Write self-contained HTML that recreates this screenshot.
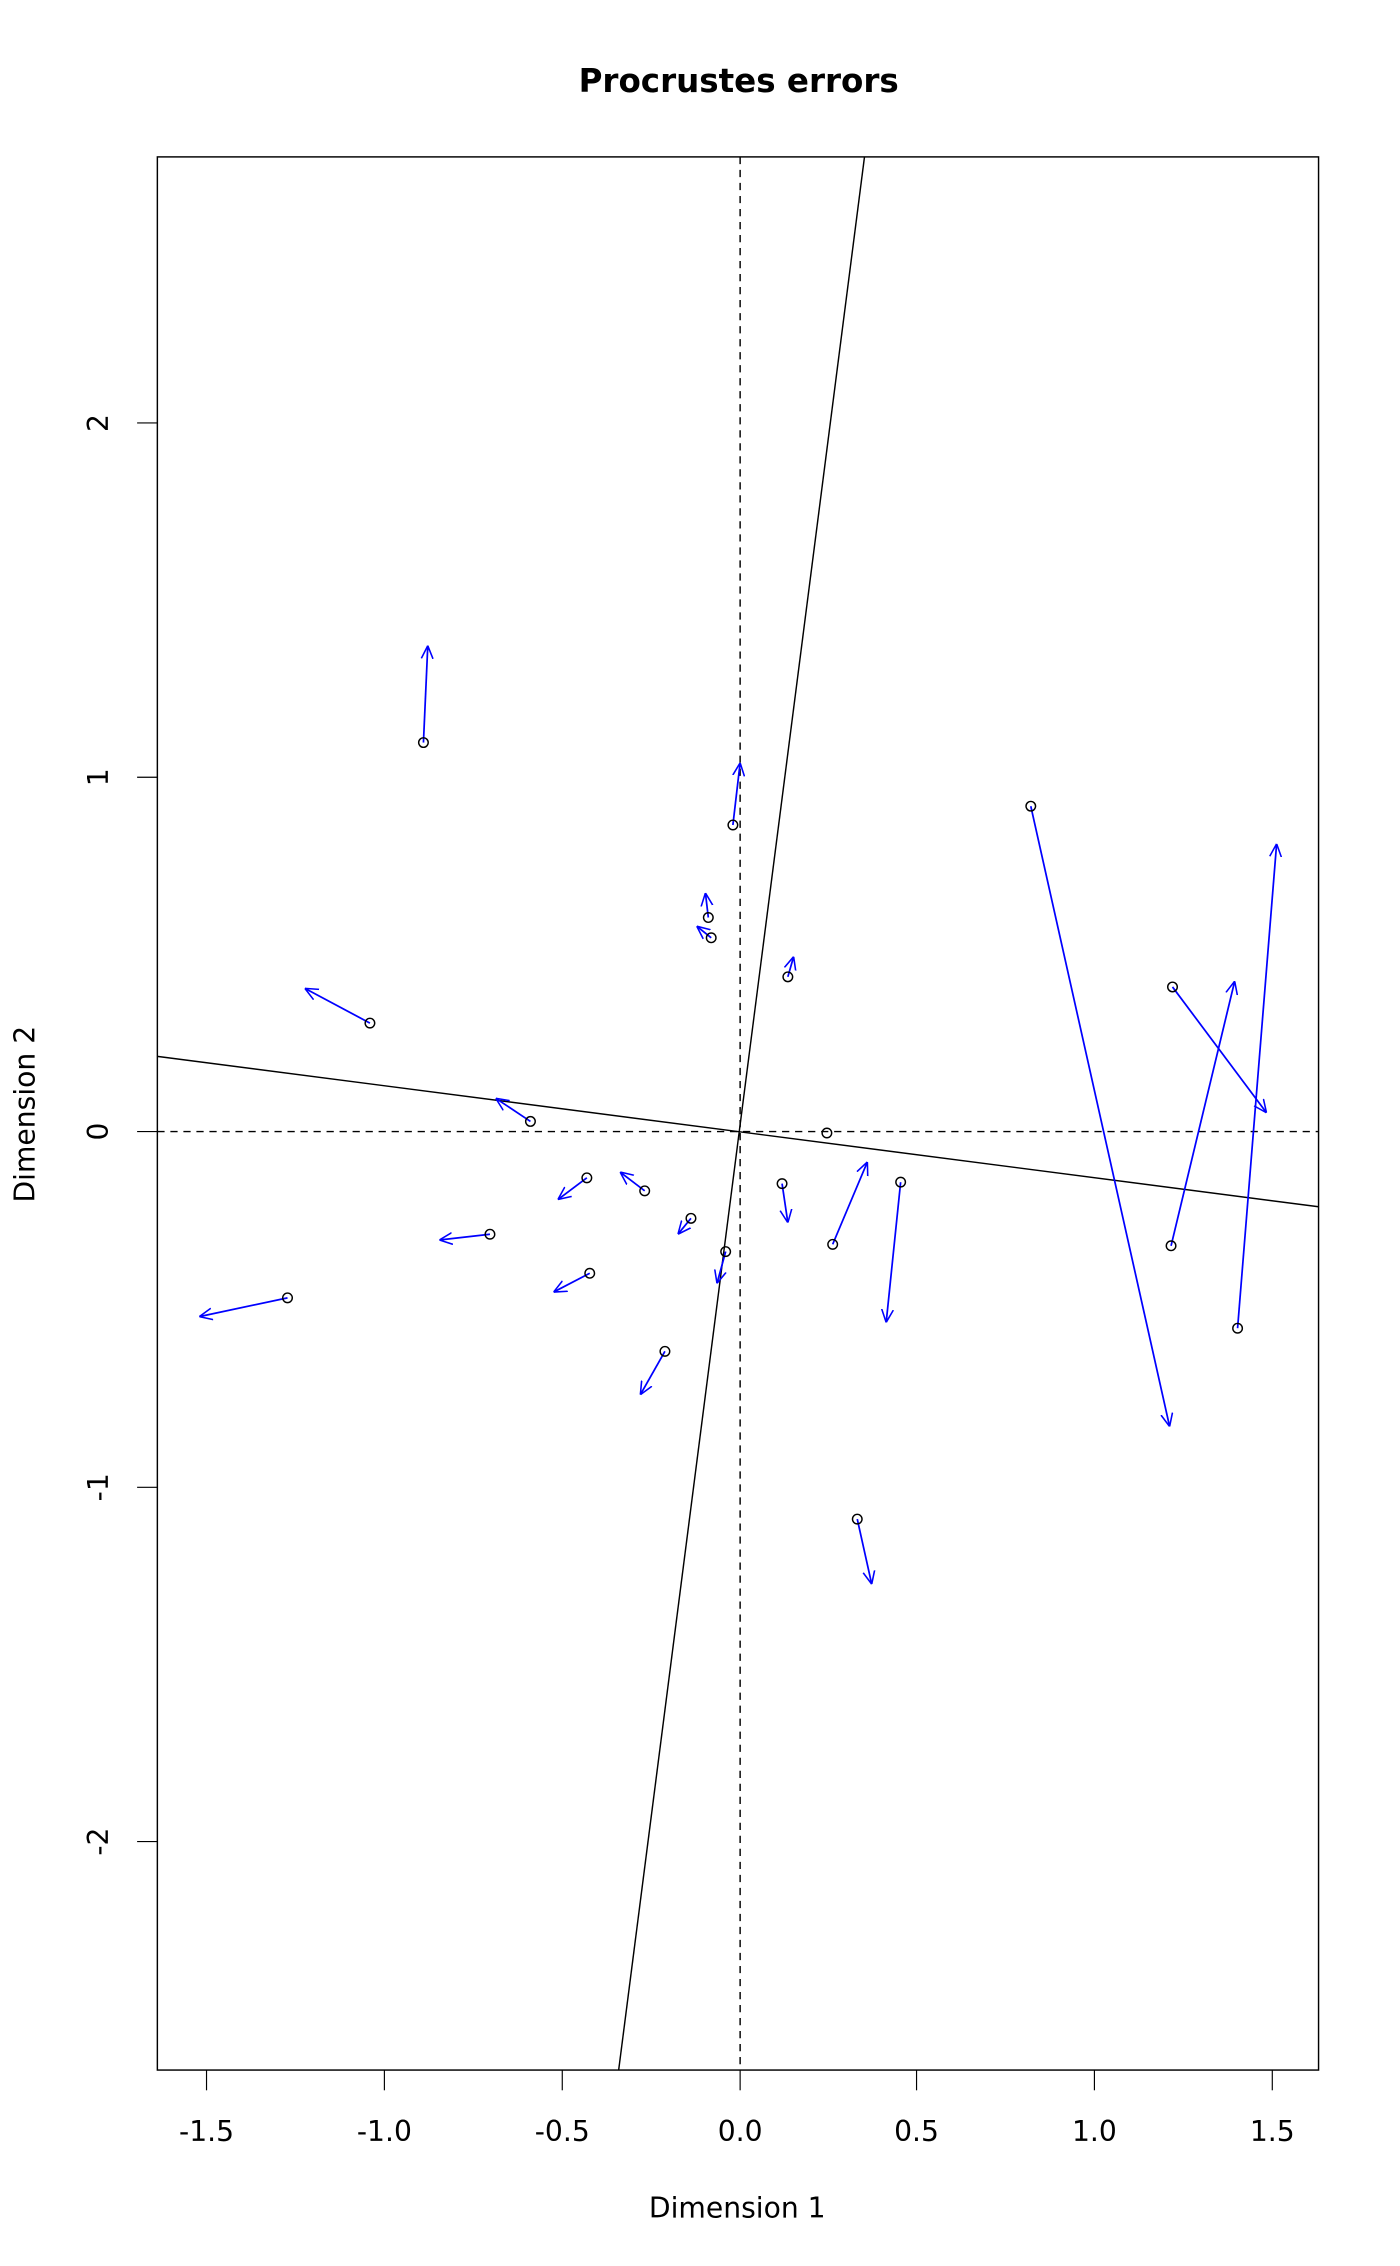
<!DOCTYPE html>
<html><head><meta charset="utf-8"><style>
html,body{margin:0;padding:0;background:#fff}
svg{display:block}
text{font-family:"DejaVu Sans","Liberation Sans",sans-serif;fill:#000}
</style></head><body>
<svg width="1400" height="2266" viewBox="0.5 -0.5 967.5 1567" xmlns="http://www.w3.org/2000/svg">
<defs>
<marker id="a" viewBox="0 0 10 10" refX="10" refY="5" markerWidth="9" markerHeight="9" markerUnits="userSpaceOnUse" orient="auto">
<path d="M0,0.5 L10,5 L0,9.5" fill="none" stroke="#0000ff" stroke-width="1.2"/>
</marker>
</defs>
<text x="511" y="63" font-size="22.5" font-weight="bold" text-anchor="middle">Procrustes errors</text>
<rect x="109" y="108" width="803" height="1323" fill="none" stroke="#000" stroke-width="1"/>
<g stroke="#000" stroke-width="0.8">
<line x1="143" y1="1431" x2="143" y2="1445"/><line x1="266" y1="1431" x2="266" y2="1445"/>
<line x1="389" y1="1431" x2="389" y2="1445"/><line x1="512" y1="1431" x2="512" y2="1445"/>
<line x1="634" y1="1431" x2="634" y2="1445"/><line x1="757" y1="1431" x2="757" y2="1445"/>
<line x1="880" y1="1431" x2="880" y2="1445"/>
<line x1="95" y1="292" x2="109" y2="292"/><line x1="95" y1="537" x2="109" y2="537"/>
<line x1="95" y1="782" x2="109" y2="782"/><line x1="95" y1="1028" x2="109" y2="1028"/>
<line x1="95" y1="1273" x2="109" y2="1273"/>
</g>
<g font-size="19.5" text-anchor="middle">
<text x="143" y="1480">-1.5</text><text x="266" y="1480">-1.0</text><text x="389" y="1480">-0.5</text>
<text x="512" y="1480">0.0</text><text x="634" y="1480">0.5</text><text x="757" y="1480">1.0</text>
<text x="880" y="1480">1.5</text>
<text transform="translate(75,292) rotate(-90)">2</text>
<text transform="translate(75,537) rotate(-90)">1</text>
<text transform="translate(75,782) rotate(-90)">0</text>
<text transform="translate(75,1028) rotate(-90)">-1</text>
<text transform="translate(75,1273) rotate(-90)">-2</text>
<text x="510" y="1533">Dimension 1</text>
<text transform="translate(24,770) rotate(-90)">Dimension 2</text>
</g>
<g stroke="#000" stroke-width="1" fill="none">
<line x1="512" y1="108" x2="512" y2="1431" stroke-dasharray="5,4"/>
<line x1="109" y1="782" x2="912" y2="782" stroke-dasharray="5,4"/>
<line x1="598" y1="108" x2="428" y2="1431"/>
<line x1="109" y1="730" x2="912" y2="834"/>
</g>
<g stroke="#0000ff" stroke-width="1.2" marker-end="url(#a)">
<line x1="293" y1="513" x2="296" y2="446"/>
<line x1="507" y1="570" x2="512" y2="527"/>
<line x1="490" y1="634" x2="488" y2="617"/>
<line x1="492" y1="648" x2="482" y2="640"/>
<line x1="545" y1="675" x2="549" y2="661"/>
<line x1="256" y1="707" x2="211" y2="683"/>
<line x1="367" y1="775" x2="343" y2="759"/>
<line x1="406" y1="814" x2="386" y2="829"/>
<line x1="446" y1="823" x2="429" y2="810"/>
<line x1="478" y1="842" x2="469" y2="853"/>
<line x1="541" y1="818" x2="545" y2="845"/>
<line x1="576" y1="860" x2="600" y2="803"/>
<line x1="623" y1="817" x2="613" y2="914"/>
<line x1="502" y1="865" x2="496" y2="887"/>
<line x1="339" y1="853" x2="304" y2="857"/>
<line x1="408" y1="880" x2="383" y2="893"/>
<line x1="199" y1="897" x2="138" y2="910"/>
<line x1="460" y1="934" x2="443" y2="964"/>
<line x1="713" y1="557" x2="809" y2="986"/>
<line x1="811" y1="682" x2="876" y2="769"/>
<line x1="810" y1="861" x2="854" y2="678"/>
<line x1="856" y1="918" x2="883" y2="583"/>
<line x1="593" y1="1050" x2="603" y2="1095"/>
</g>
<g stroke="#000" stroke-width="1" fill="none">
<circle cx="293" cy="513" r="3.3"/><circle cx="507" cy="570" r="3.3"/>
<circle cx="490" cy="634" r="3.3"/><circle cx="492" cy="648" r="3.3"/>
<circle cx="545" cy="675" r="3.3"/><circle cx="256" cy="707" r="3.3"/>
<circle cx="367" cy="775" r="3.3"/><circle cx="572" cy="783" r="3.3"/>
<circle cx="406" cy="814" r="3.3"/><circle cx="446" cy="823" r="3.3"/>
<circle cx="478" cy="842" r="3.3"/><circle cx="541" cy="818" r="3.3"/>
<circle cx="576" cy="860" r="3.3"/><circle cx="623" cy="817" r="3.3"/>
<circle cx="502" cy="865" r="3.3"/><circle cx="339" cy="853" r="3.3"/>
<circle cx="408" cy="880" r="3.3"/><circle cx="199" cy="897" r="3.3"/>
<circle cx="460" cy="934" r="3.3"/><circle cx="713" cy="557" r="3.3"/>
<circle cx="811" cy="682" r="3.3"/><circle cx="810" cy="861" r="3.3"/>
<circle cx="856" cy="918" r="3.3"/><circle cx="593" cy="1050" r="3.3"/>
</g>
</svg>
</body></html>
